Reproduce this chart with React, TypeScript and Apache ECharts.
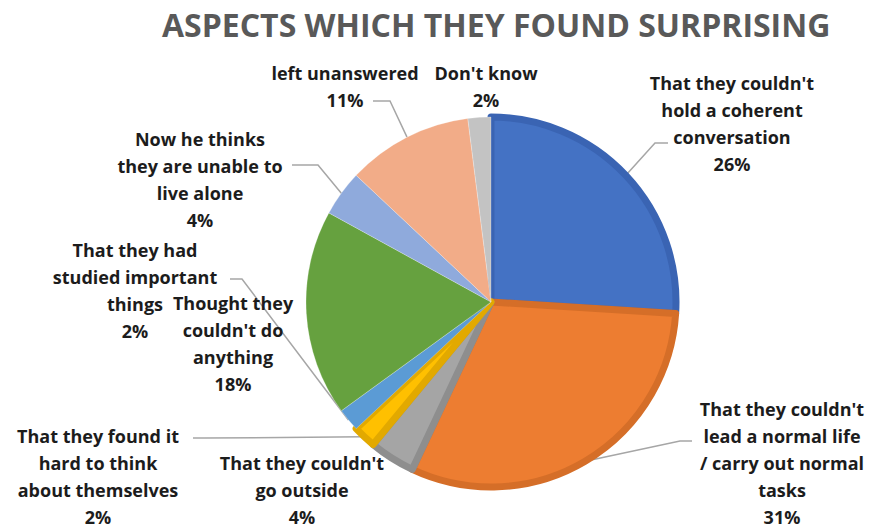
import React, { useEffect, useRef } from "react";
import * as echarts from "echarts";

const categories = [
  "That they couldn't\nhold a coherent\nconversation",
  "That they couldn't\nlead a normal life\n/ carry out normal\ntasks",
  "That they couldn't\ngo outside",
  "That they found it\nhard to think\nabout themselves",
  "That they had\nstudied important\nthings",
  "Thought they\ncouldn't do\nanything",
  "Now he thinks\nthey are unable to\nlive alone",
  "left unanswered",
  "Don't know",
];
const percents = [26, 31, 4, 2, 2, 18, 4, 11, 2];
const colors = ["#4472C4", "#ED7D31", "#A5A5A5", "#FFC000", "#5B9BD5", "#66A13F", "#8FAADC", "#F2AC88", "#C3C3C3"];
const borderColors = ["#3A64B3", "#D56E28", "#8E8E8E", "#E2A900", null, null, null, null, null];
const showLine = [true, true, false, true, true, false, true, true, false];
const title = "ASPECTS WHICH THEY FOUND SURPRISING";

// label layout (pixel positions of label centres and leader-line bends)
const labelPos: Record<number, { x: number; y: number; line?: number[][] }> = {
  0: { x: 732, y: 123, line: [[655, 143], [668, 143]] },
  1: { x: 782, y: 463, line: [[680, 441], [692, 441]] },
  2: { x: 302, y: 490 },
  3: { x: 98, y: 476, line: [[205, 438], [193, 438]] },
  4: { x: 135, y: 290, line: [[242, 279], [230, 279]] },
  5: { x: 233, y: 343 },
  6: { x: 200, y: 179, line: [[318, 165], [292, 165]] },
  7: { x: 345, y: 86, line: [[390, 101], [373, 101]] },
  8: { x: 486, y: 86 },
};

export default function App() {
  const ref = useRef<HTMLDivElement>(null);
  useEffect(() => {
    document.body.style.margin = "0";
    const chart = echarts.init(ref.current!, null, { renderer: "svg" });
    const data = categories.map((name, i) => ({
      name,
      value: percents[i],
      itemStyle: {
        color: colors[i],
        borderColor: borderColors[i] || "rgba(255,255,255,0.4)",
        borderWidth: borderColors[i] ? 7 : 0.6,
      },
      labelLine: { show: showLine[i] },
    }));
    chart.setOption({
      animation: false,
      backgroundColor: "#ffffff",
      title: {
        text: title,
        left: 157,
        top: 3,
        textStyle: { fontFamily: "Open Sans", fontWeight: "bold", fontSize: 32, color: "#595959" },
      },
      series: [
        {
          type: "pie",
          center: [491, 302],
          radius: 185,
          startAngle: 90,
          clockwise: true,
          avoidLabelOverlap: false,
          data,
          label: {
            show: true,
            position: "outside",
            formatter: "{b}\n{c}%",
            fontFamily: "Open Sans",
            fontWeight: "bold",
            fontSize: 18,
            lineHeight: 27,
            color: "#1c1c1c",
            align: "center",
          },
          labelLine: {
            show: true,
            length: 10,
            length2: 10,
            lineStyle: { color: "#A6A6A6", width: 1.5 },
          },
          labelLayout: (params: any) => {
            const p = labelPos[params.dataIndex];
            const out: any = { x: p.x, y: p.y, align: "center", verticalAlign: "middle" };
            if (p.line && params.labelLinePoints) {
              out.labelLinePoints = [params.labelLinePoints[0], ...p.line];
            }
            return out;
          },
        },
      ],
    });
    return () => chart.dispose();
  }, []);
  return <div ref={ref} style={{ width: 869, height: 531 }} />;
}
